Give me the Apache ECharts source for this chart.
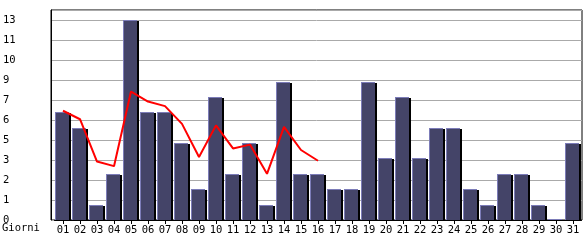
<!DOCTYPE html>
<html>
<head>
<meta charset="utf-8">
<script src="https://cdn.jsdelivr.net/npm/echarts@6/dist/echarts.min.js"></script>
<style>html,body{margin:0;padding:0;background:#fff}#c{width:585px;height:240px}</style>
</head>
<body>
<div id="c"></div>
<script>
var days = ['01','02','03','04','05','06','07','08','09','10','11','12','13','14','15','16','17','18','19','20','21','22','23','24','25','26','27','28','29','30','31'];
var barValues = [7,6,1,3,13,7,7,5,2,8,3,5,1,9,3,3,2,2,9,4,8,4,6,6,2,1,3,3,1,0.05,5];
var lineValues = [7.1,6.55,3.8,3.5,8.35,7.7,7.4,6.25,4.1,6.15,4.65,4.9,3.0,6.05,4.55,3.85];
var yTickLabels = ['0','1','2','3','5','6','7','9','10','11','13'];
var yStep = 1.3;
var yMax = 13.65;
var xName = 'Giorni';

var font = 'DejaVu Sans Mono';
var lineData = days.map(function(d,i){ return i < lineValues.length ? lineValues[i] : null; });
var barData = barValues.map(function(v,i){ return [i, v]; });

function renderBar(params, api){
  var top = api.coord([api.value(0), api.value(1)]);
  var base = api.coord([api.value(0), 0]);
  var c = Math.round(top[0]);
  var t = Math.round(top[1]);
  var b = Math.round(base[1]);
  var h = b - t;
  if (h < 1) { h = 1; t = b - 1; }
  var children = [];
  if (h > 2) {
    children.push({type:'rect', shape:{x:c+6, y:t+1, width:2, height:b-t-1}, style:{fill:'#000'}});
  }
  children.push({type:'rect', shape:{x:c-8, y:t, width:14, height:h}, style:{fill:'#7c7cb8'}});
  if (h > 1) {
    children.push({type:'rect', shape:{x:c-7, y:t+1, width:13, height:h-1}, style:{fill:'#444468'}});
  }
  return {type:'group', children:children};
}

var chart = echarts.init(document.getElementById('c'), null, {renderer:'canvas'});
chart.setOption({
  animation: false,
  backgroundColor: '#fff',
  grid: [
    {left:50, right:3, top:10, bottom:20, show:true, borderColor:'#000', borderWidth:1, backgroundColor:'transparent'},
    {left:54.5, right:3.5, top:10, bottom:20}
  ],
  xAxis: [
    {gridIndex:0, type:'value', min:0, max:1, show:false},
    {gridIndex:1, type:'category', data:days, boundaryGap:true,
     axisLine:{show:true, lineStyle:{color:'#000', width:1}},
     axisTick:{show:true, alignWithLabel:true, length:4, lineStyle:{color:'#000'}},
     axisLabel:{color:'#000', fontFamily:font, fontSize:10.5, margin:5, interval:0},
     splitLine:{show:false}}
  ],
  yAxis: [
    {gridIndex:0, type:'value', min:0, max:yMax, interval:yStep,
     axisLine:{show:true, lineStyle:{color:'#000'}},
     axisTick:{show:false},
     axisLabel:{color:'#000', fontFamily:font, fontSize:10.5, align:'left', margin:48,
       formatter:function(v){ var k = Math.round(v/yStep); return (Math.abs(k*yStep - v) < 0.01 && k < yTickLabels.length) ? yTickLabels[k] : ''; }},
     splitLine:{show:true, lineStyle:{color:'#aaaaaa', width:1}}},
    {gridIndex:1, type:'value', min:0, max:yMax, show:false, splitLine:{show:false}}
  ],
  graphic: [
    {type:'text', left:2, top:223, style:{text:xName, fill:'#000', font:'10.5px "DejaVu Sans Mono"'}}
  ],
  series: [
    {type:'custom', xAxisIndex:1, yAxisIndex:1, data:barData, renderItem:renderBar, encode:{x:0, y:1}, z:2},
    {type:'line', xAxisIndex:1, yAxisIndex:1, data:lineData, symbol:'none', connectNulls:false,
     lineStyle:{color:'#ff0000', width:2}, z:5}
  ]
});
</script>
</body>
</html>
